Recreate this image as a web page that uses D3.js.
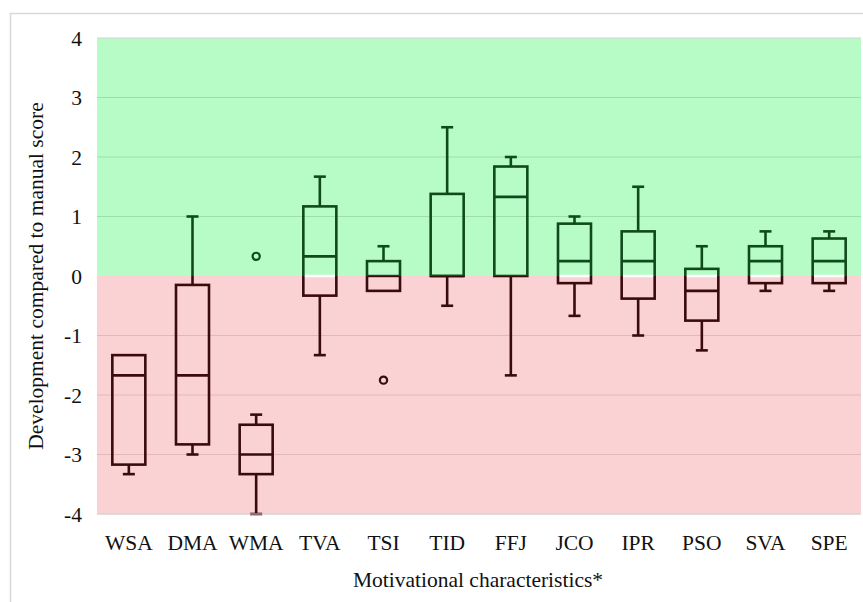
<!DOCTYPE html>
<html>
<head>
<meta charset="utf-8">
<script src="https://cdn.jsdelivr.net/npm/d3@7"></script>
<style>
  body { margin: 0; background: #fff; }
  text { font-family: "Liberation Serif", "Times New Roman", serif; fill: #111; }
</style>
</head>
<body>
<div id="chart"></div>
<script>
// chart data
var categories = ["WSA","DMA","WMA","TVA","TSI","TID","FFJ","JCO","IPR","PSO","SVA","SPE"];
var whiskerLow  = [-3.33, -3.0, -4.0, -1.33, -0.25, -0.5, -1.67, -0.67, -1.0, -1.25, -0.25, -0.25];
var q1          = [-3.17, -2.83, -3.33, -0.33, -0.25, 0, 0, -0.12, -0.38, -0.75, -0.12, -0.12];
var medians     = [-1.67, -1.67, -3.0, 0.33, 0, 0, 1.33, 0.25, 0.25, -0.25, 0.25, 0.25];
var q3          = [-1.33, -0.15, -2.5, 1.17, 0.25, 1.38, 1.84, 0.88, 0.75, 0.12, 0.5, 0.63];
var whiskerHigh = [-1.33, 1.0, -2.33, 1.67, 0.5, 2.5, 2.0, 1.0, 1.5, 0.5, 0.75, 0.75];
var outliers = [
  {cat: "WMA", value: 0.33},
  {cat: "TSI", value: -1.75}
];
var yTicks = [-4, -3, -2, -1, 0, 1, 2, 3, 4];

var W = 863, H = 602;
var margin = {top: 38, right: 2, bottom: 88, left: 97};
var width = W - margin.left - margin.right,
    height = H - margin.top - margin.bottom;

var greenStroke = "#0f4a1c", redStroke = "#3a0b0d";
var fontSize = "21.5px";

var svg = d3.select("#chart").append("svg")
    .attr("width", W).attr("height", H);

// outer frame
svg.append("rect")
    .attr("x", 10.5).attr("y", 13.5)
    .attr("width", W + 10).attr("height", H + 10)
    .attr("fill", "#fff").attr("stroke", "#d9d9d9").attr("stroke-width", 1.5);

var g = svg.append("g")
    .attr("transform", "translate(" + margin.left + "," + margin.top + ")");

var x = d3.scaleBand().domain(categories).range([0, width]);
var y = d3.scaleLinear().domain([-4, 4]).range([height, 0]);

// background bands
g.append("rect").attr("x", 0).attr("y", y(4)).attr("width", width)
    .attr("height", y(0) - y(4)).attr("fill", "#b7fcc7");
g.append("rect").attr("x", 0).attr("y", y(0)).attr("width", width)
    .attr("height", y(-4) - y(0)).attr("fill", "#fad2d3");

// gridlines
g.selectAll(".grid").data(yTicks.filter(function(d){ return d !== 0; }))
  .enter().append("line")
    .attr("x1", 0).attr("x2", width)
    .attr("y1", function(d){ return y(d); }).attr("y2", function(d){ return y(d); })
    .attr("stroke", function(d){
      if (d === 4 || d === -4) return "#d4d4d4";
      return d > 0 ? "#9fdcae" : "#e3b8ba"; })
    .attr("stroke-width", 1.2);

// y axis tick labels
g.selectAll(".ytick").data(yTicks).enter().append("text")
    .attr("x", -15).attr("y", function(d){ return y(d); })
    .attr("dy", "0.35em").attr("text-anchor", "end")
    .style("font-size", fontSize)
    .text(function(d){ return d; });

// x axis labels
g.selectAll(".xtick").data(categories).enter().append("text")
    .attr("x", function(d){ return x(d) + x.bandwidth() / 2; })
    .attr("y", height + 36)
    .attr("text-anchor", "middle")
    .style("font-size", fontSize)
    .text(function(d){ return d; });

// axis titles
svg.append("text")
    .attr("transform", "translate(43," + (margin.top + y(0)) + ") rotate(-90)")
    .attr("text-anchor", "middle")
    .style("font-size", fontSize)
    .text("Development compared to manual score");
svg.append("text")
    .attr("x", 478).attr("y", 587)
    .attr("text-anchor", "middle")
    .style("font-size", fontSize)
    .text("Motivational characteristics*");

// clip regions so strokes are green above zero and dark red below
var defs = svg.append("defs");
defs.append("clipPath").attr("id", "clipTop").append("rect")
    .attr("x", -10).attr("y", -20).attr("width", width + 20).attr("height", y(0) + 20);
defs.append("clipPath").attr("id", "clipBottom").append("rect")
    .attr("x", -10).attr("y", y(0)).attr("width", width + 20).attr("height", height - y(0) + 20);

var rows = categories.map(function(c, i) {
  return {cat: c, lo: whiskerLow[i], q1: q1[i], med: medians[i], q3: q3[i], hi: whiskerHigh[i]};
});

var boxW = 33, capW = 12;

// white seam at zero inside boxes that cross it
g.selectAll(".seam").data(rows.filter(function(d){ return d.q1 < 0 && d.q3 > 0; }))
  .enter().append("line")
    .attr("x1", function(d){ return x(d.cat) + x.bandwidth()/2 - boxW/2; })
    .attr("x2", function(d){ return x(d.cat) + x.bandwidth()/2 + boxW/2; })
    .attr("y1", y(0)).attr("y2", y(0))
    .attr("stroke", "#fff").attr("stroke-width", 2.5);

function drawBoxes(layer, color) {
  var b = layer.selectAll(".box").data(rows).enter().append("g")
      .attr("transform", function(d){ return "translate(" + (x(d.cat) + x.bandwidth()/2) + ",0)"; });
  b.append("line").attr("x1", 0).attr("x2", 0)
      .attr("y1", function(d){ return y(d.hi); }).attr("y2", function(d){ return y(d.q3); });
  b.append("line").attr("x1", 0).attr("x2", 0)
      .attr("y1", function(d){ return y(d.q1); }).attr("y2", function(d){ return y(d.lo); });
  b.filter(function(d){ return d.hi > d.q3; }).append("line")
      .attr("x1", -capW/2).attr("x2", capW/2)
      .attr("y1", function(d){ return y(d.hi); }).attr("y2", function(d){ return y(d.hi); });
  b.filter(function(d){ return d.lo < d.q1; }).append("line")
      .attr("x1", -capW/2).attr("x2", capW/2)
      .attr("y1", function(d){ return y(d.lo); }).attr("y2", function(d){ return y(d.lo); });
  b.append("rect")
      .attr("x", -boxW/2).attr("width", boxW)
      .attr("y", function(d){ return y(d.q3); })
      .attr("height", function(d){ return y(d.q1) - y(d.q3); })
      .attr("fill", "none");
  b.append("line").attr("x1", -boxW/2).attr("x2", boxW/2)
      .attr("y1", function(d){ return y(d.med); }).attr("y2", function(d){ return y(d.med); });
  layer.selectAll("line, rect").attr("stroke", color).attr("stroke-width", 2.6);
  layer.selectAll(".out").data(outliers).enter().append("circle")
      .attr("cx", function(d){ return x(d.cat) + x.bandwidth()/2; })
      .attr("cy", function(d){ return y(d.value); })
      .attr("r", 3.6)
      .attr("fill", "none").attr("stroke", color).attr("stroke-width", 2.2);
}

drawBoxes(g.append("g").attr("clip-path", "url(#clipTop)"), greenStroke);
drawBoxes(g.append("g").attr("clip-path", "url(#clipBottom)"), redStroke);

// bottom line at -4 on top of whiskers
g.append("line").attr("x1", 0).attr("x2", width)
    .attr("y1", y(-4)).attr("y2", y(-4))
    .attr("stroke", "#d4d4d4").attr("stroke-width", 1.2);
</script>
</body>
</html>
